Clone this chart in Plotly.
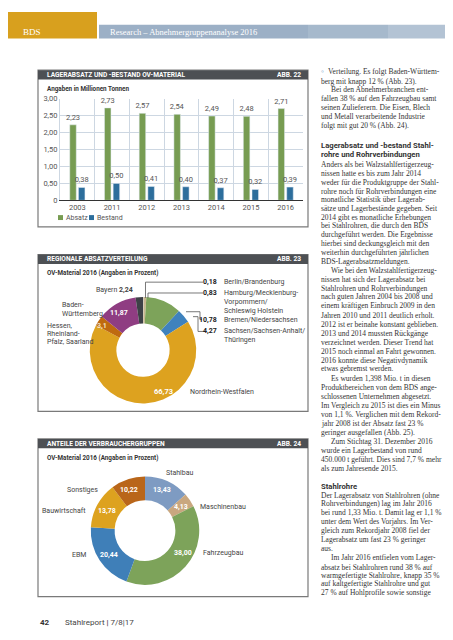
import plotly.graph_objects as go

W, H = 453, 640
def px(x): return x / W
def py(y): return 1 - y / H

# ---------------- data ----------------
years = ["2003", "2011", "2012", "2013", "2014", "2015", "2016"]
absatz = [2.23, 2.73, 2.57, 2.54, 2.49, 2.48, 2.71]
bestand = [0.38, 0.50, 0.41, 0.40, 0.37, 0.32, 0.39]
ytick_vals = [0, 0.5, 1.0, 1.5, 2.0, 2.5, 3.0]
ytick_text = ["0", "0,50", "1,00", "1,50", "2,00", "2,50", "3,00"]

regions = ["Berlin/Brandenburg", "Hamburg/Mecklenburg-Vorpommern/Schleswig Holstein",
           "Bremen/Niedersachsen", "Sachsen/Sachsen-Anhalt/Thüringen", "Nordrhein-Westfalen",
           "Hessen, Rheinland-Pfalz, Saarland", "Baden-Württemberg", "Bayern"]
region_vals = [0.18, 0.83, 10.78, 4.27, 66.73, 3.1, 11.87, 2.24]
region_text = ["0,18", "0,83", "10,78", "4,27", "66,73", "3,1", "11,87", "2,24"]

groups = ["Stahlbau", "Maschinenbau", "Fahrzeugbau", "EBM", "Bauwirtschaft", "Sonstiges"]
group_vals = [13.43, 4.13, 38.00, 20.44, 13.78, 10.22]
group_text = ["13,43", "4,13", "38,00", "20,44", "13,78", "10,22"]

def de(v):
    return f"{v:.2f}".replace(".", ",")

# ---------------- styles ----------------
GREEN = "#779c52"
BLUE = "#2d6e9c"
SANS = "Roboto"
SERIF = "Liberation Serif"
region_colors = ["#c4c4c4", "#c9b68f", "#7da35a", "#3f82bd", "#dda21f", "#bf6a10", "#8f3d82", "#3e4147"]
group_colors = ["#7e9bc2", "#c9a77f", "#7da35a", "#3f7fb8", "#dda21f", "#b9661a"]

fig = go.Figure()

# ---------------- bar chart ----------------
fig.add_trace(go.Bar(x=years, y=absatz, name="Absatz", marker_color=GREEN,
                     text=[de(v) for v in absatz], textposition="outside",
                     constraintext="none", cliponaxis=False,
                     textfont=dict(family=SANS, size=7.5, color="#555"),
                     showlegend=False, hoverinfo="skip"))
fig.add_trace(go.Bar(x=years, y=bestand, name="Bestand", marker_color=BLUE,
                     text=[de(v) for v in bestand], textposition="outside",
                     constraintext="none", cliponaxis=False,
                     textfont=dict(family=SANS, size=7.5, color="#555"),
                     showlegend=False, hoverinfo="skip"))

# ---------------- donuts ----------------
c1x, c1y, r1 = 135, 343, 54
fig.add_trace(go.Pie(values=region_vals, labels=regions, sort=False, direction="clockwise",
                     rotation=0, hole=0.5, textinfo="none", hoverinfo="skip",
                     marker=dict(colors=region_colors, line=dict(width=0)),
                     domain=dict(x=[px(c1x - r1), px(c1x + r1)], y=[py(c1y + r1), py(c1y - r1)]),
                     showlegend=False))
c2x, c2y, r2 = 137, 526, 55
fig.add_trace(go.Pie(values=group_vals, labels=groups, sort=False, direction="clockwise",
                     rotation=0, hole=0.56, textinfo="none", hoverinfo="skip",
                     marker=dict(colors=group_colors, line=dict(width=0)),
                     domain=dict(x=[px(c2x - r2), px(c2x + r2)], y=[py(c2y + r2), py(c2y - r2)]),
                     showlegend=False))

shapes = []
ann = []

def rect(x0, y0, x1, y1, fill=None, line=None, lw=0):
    shapes.append(dict(type="rect", xref="paper", yref="paper",
                       x0=px(x0), x1=px(x1), y0=py(y1), y1=py(y0),
                       fillcolor=fill if fill else "rgba(0,0,0,0)",
                       line=dict(color=line if line else "rgba(0,0,0,0)", width=lw), layer="below"))

def text(x, y, s, size=7, color="#444", family=SANS, anchor="left", bold=False, vanchor="middle"):
    ann.append(dict(x=px(x), y=py(y), xref="paper", yref="paper", text=s, showarrow=False,
                    xanchor=anchor, yanchor=vanchor,
                    font=dict(family=family, size=size, color=color, weight=700 if bold else 400)))

def path(points, color="#555", w=0.8):
    d = "M " + " L ".join(f"{px(x):.5f},{py(y):.5f}" for x, y in points)
    shapes.append(dict(type="path", xref="paper", yref="paper", path=d,
                       line=dict(color=color, width=w)))

# header
rect(0, 0, 89, 27, fill="#d8a01e")
rect(91, 13, 300, 27, fill="#9cb0c6")
rect(300, 13, 380, 27, fill="#a6b9cc")
rect(380, 13, 453, 27, fill="#b3c3d4")
text(13, 20.5, "BDS", size=9, color="white", family=SERIF)
text(100, 20.5, "Research – Abnehmergruppenanalyse 2016", size=8.5, color="white", family=SERIF)

# boxes
DARK = "#4d5054"
for (y0, y1, title, abb, sub) in [
    (59, 218, "LAGERABSATZ UND -BESTAND OV-MATERIAL", "ABB. 22", "Angaben in Millionen Tonnen"),
    (246, 405, "REGIONALE ABSATZVERTEILUNG", "ABB. 23", "OV-Material 2016 (Angaben in Prozent)"),
    (433, 593, "ANTEILE DER VERBRAUCHERGRUPPEN", "ABB. 24", "OV-Material 2016 (Angaben in Prozent)")]:
    rect(30, y0, 300, y1, line="#7a7a7a", lw=1.2)
    rect(30, y0, 300, y0 + 9.5, fill=DARK)
    text(37, y0 + 5, title, size=6.6, color="white", bold=True)
    text(295, y0 + 5, abb, size=6.6, color="white", bold=True, anchor="right")
    text(37, y0 + 19, sub, size=6.3, color="#333", bold=True)

# bar legend
rect(50, 206, 55, 211, fill=GREEN)
text(56, 209, "Absatz", size=7, color="#555")
rect(81, 206, 86, 211, fill=BLUE)
text(87, 209, "Bestand", size=7, color="#555")

# donut 1 labels
text(111, 305, region_text[6], size=7, color="white", bold=True, anchor="center")
text(94, 318, region_text[5], size=7, color="#f3e2c0", bold=True, anchor="center")
text(155, 385, region_text[4], size=7.5, color="white", bold=True, anchor="center")
text(180, 385, "Nordrhein-Westfalen", size=7, color="#444")
text(127, 282, "Bayern <b>" + region_text[7] + "</b>", size=7, color="#444", anchor="right")
text(52, 297, "Baden-", size=7, color="#444")
text(52, 306, "Württemberg", size=7, color="#444")
text(37, 318, "Hessen,", size=7, color="#444")
text(37, 327, "Rheinland-", size=7, color="#444")
text(37, 335, "Pfalz, Saarland", size=7, color="#444")
text(211, 274, "<b>" + region_text[0] + "</b>", size=7, color="#222", anchor="right")
text(214, 274, "Berlin/Brandenburg", size=7, color="#444")
text(211, 285, "<b>" + region_text[1] + "</b>", size=7, color="#222", anchor="right")
text(214, 285, "Hamburg/Mecklenburg-", size=7, color="#444")
text(214, 294, "Vorpommern/", size=7, color="#444")
text(214, 303, "Schleswig Holstein", size=7, color="#444")
text(211, 312, "<b>" + region_text[2] + "</b>", size=7, color="#222", anchor="right")
text(214, 312, "Bremen/Niedersachsen", size=7, color="#444")
text(211, 324, "<b>" + region_text[3] + "</b>", size=7, color="#222", anchor="right")
text(214, 324, "Sachsen/Sachsen-Anhalt/", size=7, color="#444")
text(214, 333, "Thüringen", size=7, color="#444")
path([(137.5, 290), (137.5, 274), (195, 274)])
path([(140, 290), (140, 285), (195, 285)])
path([(178, 304), (192, 304), (192, 312), (194, 312)])
path([(185, 309), (190, 309), (190, 324), (197, 324)])

# donut 2 labels
text(172, 468, "Stahlbau", size=7, color="#444", anchor="center")
text(190, 502, "Maschinenbau", size=7, color="#444")
text(193, 549, "Fahrzeugbau", size=7, color="#444")
text(80, 551, "EBM", size=7, color="#444", anchor="right")
text(80, 506, "Bauwirtschaft", size=7, color="#444", anchor="right")
text(92, 485, "Sonstiges", size=7, color="#444", anchor="right")
for (x, y, i) in [(154, 485, 0), (173, 502, 1), (175, 549, 2), (101, 551, 3), (99, 506, 4), (121, 485, 5)]:
    text(x, y, group_text[i], size=7, color="white", bold=True, anchor="center")

# footer
text(30, 619, "<b>42</b>", size=8, color="#333")
text(55, 619, "Stahlreport <b>|</b> 7/8|17", size=8, color="#444")

# text column
col_lines = [
    (60, "Verteilung. Es folgt Baden-Württem-", 7), (70, "berg mit knapp 12 % (Abb. 23).", 0),
    (79, "Bei den Abnehmerbranchen ent-", 10), (88, "fallen 38 % auf den Fahrzeugbau samt", 0),
    (97, "seinen Zulieferern. Die Eisen, Blech", 0), (106, "und Metall verarbeitende Industrie", 0),
    (115, "folgt mit gut 20 % (Abb. 24).", 0),
    (155, "Anders als bei Walzstahlfertigerzeug-", 0), (164, "nissen hatte es bis zum Jahr 2014", 0),
    (173, "weder für die Produktgruppe der Stahl-", 0), (182, "rohre noch für Rohrverbindungen eine", 0),
    (190, "monatliche Statistik über Lagerab-", 0), (199, "sätze und Lagerbestände gegeben. Seit", 0),
    (208, "2014 gibt es monatliche Erhebungen", 0), (217, "bei Stahlrohren, die durch den BDS", 0),
    (226, "durchgeführt werden. Die Ergebnisse", 0), (235, "hierbei sind deckungsgleich mit den", 0),
    (244, "weiterhin durchgeführten jährlichen", 0), (253, "BDS-Lagerabsatzmeldungen.", 0),
    (262, "Wie bei den Walzstahlfertigerzeug-", 10), (271, "nissen hat sich der Lagerabsatz bei", 0),
    (280, "Stahlrohren und Rohrverbindungen", 0), (289, "nach guten Jahren 2004 bis 2008 und", 0),
    (298, "einem kräftigen Einbruch 2009 in den", 0), (308, "Jahren 2010 und 2011 deutlich erholt.", 0),
    (317, "2012 ist er beinahe konstant geblieben.", 0), (326, "2013 und 2014 mussten Rückgänge", 0),
    (335, "verzeichnet werden. Dieser Trend hat", 0), (344, "2015 noch einmal an Fahrt gewonnen.", 0),
    (353, "2016 konnte diese Negativdynamik", 0), (362, "etwas gebremst werden.", 0),
    (372, "Es wurden 1,398 Mio. t in diesen", 10), (381, "Produktbereichen von dem BDS ange-", 0),
    (390, "schlossenen Unternehmen abgesetzt.", 0), (399, "Im Vergleich zu 2015 ist dies ein Minus", 0),
    (408, "von 1,1 %. Verglichen mit dem Rekord-", 0), (417, "jahr 2008 ist der Absatz fast 23 %", 0),
    (427, "geringer ausgefallen (Abb. 25).", 0), (436, "Zum Stichtag 31. Dezember 2016", 10),
    (445, "wurde ein Lagerbestand von rund", 0), (454, "450.000 t geführt. Dies sind 7,7 % mehr", 0),
    (463, "als zum Jahresende 2015.", 0),
    (490, "Der Lagerabsatz von Stahlrohren (ohne", 0), (499, "Rohrverbindungen) lag im Jahr 2016", 0),
    (508, "bei rund 1,33 Mio. t. Damit lag er 1,1 %", 0), (517, "unter dem Wert des Vorjahrs. Im Ver-", 0),
    (526, "gleich zum Rekordjahr 2008 fiel der", 0), (535, "Lagerabsatz um fast 23 % geringer", 0),
    (544, "aus.", 0), (553, "Im Jahr 2016 entfielen vom Lager-", 10),
    (563, "absatz bei Stahlrohren rund 38 % auf", 0), (572, "warmgefertigte Stahlrohre, knapp 35 %", 0),
    (580, "auf kaltgefertigte Stahlrohre und gut", 0), (589, "27 % auf Hohlprofile sowie sonstige", 0),
]
for (y, s, ind) in col_lines:
    text(311 + ind, y, s, size=7.5, color="#333", family=SERIF)
text(311, 60, "◦", size=8, color="#5b8fc0", family=SERIF)
text(311, 135, "Lagerabsatz und -bestand Stahl-", size=7.7, color="#333", bold=True)
text(311, 145, "rohre und Rohrverbindungen", size=7.7, color="#333", bold=True)
text(311, 481, "Stahlrohre", size=7.7, color="#333", bold=True)

fig.update_layout(
    width=W, height=H, margin=dict(l=0, r=0, t=0, b=0),
    paper_bgcolor="white", plot_bgcolor="white",
    separators=",.",
    barmode="group", bargap=0.5, bargroupgap=0.25,
    shapes=shapes, annotations=ann, showlegend=False,
    xaxis=dict(domain=[px(52), px(295)], type="category", tickson="boundaries",
               showgrid=True, gridcolor="#cdd7e2", gridwidth=1, ticks="", ticklen=0,
               showline=True, linecolor="#333", linewidth=1.2,
               tickfont=dict(family=SANS, size=7.5, color="#555"), fixedrange=True),
    yaxis=dict(domain=[py(191), py(88)], range=[0, 3], tickvals=ytick_vals, ticktext=ytick_text,
               showgrid=True, gridcolor="#cdd7e2", gridwidth=1, zeroline=False,
               showline=True, linecolor="#cdd7e2",
               tickfont=dict(family=SANS, size=7.5, color="#555"), fixedrange=True),
)

fig.write_html("out.html")
